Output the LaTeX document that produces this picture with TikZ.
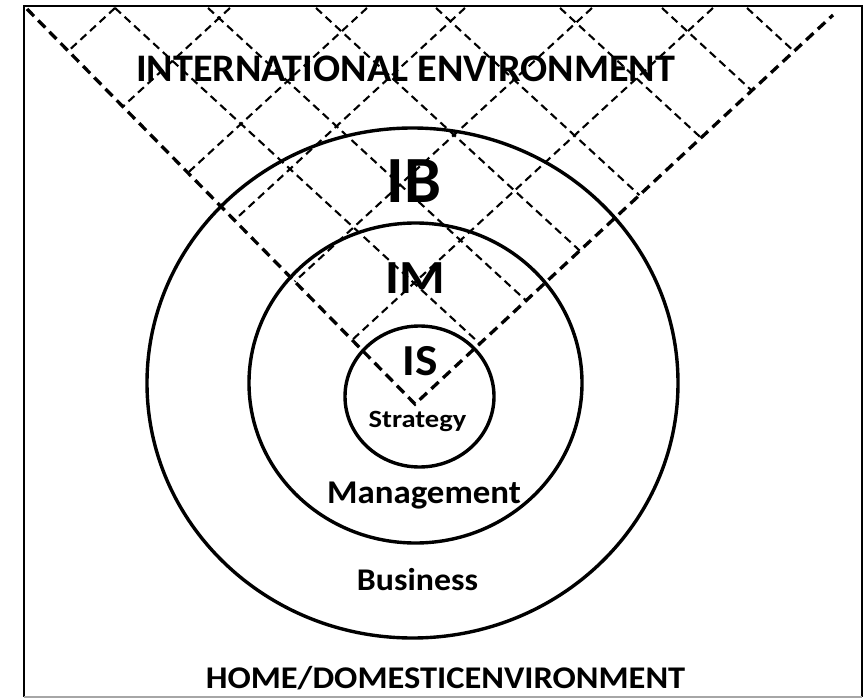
\documentclass[tikz,border=0pt]{standalone}
\usepackage{fontspec}
\setmainfont{Carlito}
\usetikzlibrary{shapes.geometric}
\begin{document}
\begin{tikzpicture}[x=1pt,y=-1pt,
  ring/.style={draw=black, line width=3.4pt, ellipse, inner sep=0pt, outer sep=0pt},
  armline/.style={draw=black, line width=3.3pt, dash pattern=on 10pt off 6pt},
  gridline/.style={draw=black, line width=2.1pt, dash pattern=on 8pt off 5pt},
  lbl/.style={anchor=base, inner sep=0pt, text=black}]
\useasboundingbox (0,0) rectangle (865,698);

% outer frame
\draw[line width=2.4pt] (24,697) -- (24,6) -- (862,6) -- (862,697);
\draw[line width=1.2pt, black!35] (24,697) -- (862,697);

% corners of the V-shaped international zone
\coordinate (L) at (27,9);
\coordinate (A) at (415,404);
\coordinate (R) at (833,15);

% lattice: lines running down to the left, stopping at the left arm
% (left arm: y = 9 + 1.01804 (x-27); lattice slope 0.92)
\foreach \x [count=\i] in {115,230,367,465,592,713} {
  \pgfmathsetmacro{\ex}{(0.92*\x+26.487)/1.93804}
  \pgfmathsetmacro{\ey}{8+0.92*(\x-\ex)}
  \coordinate (s\i) at (\x,8);
  \coordinate (e\i) at (\ex,\ey);
  \draw[gridline] (s\i) -- (e\i);
}
% lattice: lines running down to the right, stopping at the right arm
% (right arm: y = 404 - 0.93062 (x-415))
\foreach \x [count=\i] in {115,208,316,436,560,662,747} {
  \pgfmathsetmacro{\ex}{(782.207+0.92*\x)/1.85062}
  \pgfmathsetmacro{\ey}{8+0.92*(\ex-\x)}
  \coordinate (u\i) at (\x,8);
  \coordinate (f\i) at (\ex,\ey);
  \draw[gridline] (u\i) -- (f\i);
}
% arms of the V
\draw[armline] (L) -- (A) -- (R);

% concentric rings
\node[ring, minimum width=531pt, minimum height=510pt] (business) at (412.5,383) {};
\node[ring, minimum width=333pt, minimum height=320pt] (management) at (415.5,383) {};
\node[ring, minimum width=149pt, minimum height=141pt] (strategy) at (419.5,396.5) {};

% labels
\node[lbl, xscale=1.03, font=\bfseries\fontsize{39}{40}\selectfont] (intl) at (405.5,82) {INTERNATIONAL ENVIRONMENT};
\node[lbl, font=\bfseries\fontsize{66}{66}\selectfont] (ib) at (414,202) {IB};
\node[lbl, xscale=1.1, font=\bfseries\fontsize{47.5}{48}\selectfont] (im) at (415.5,293) {IM};
\node[lbl, xscale=1.07, font=\bfseries\fontsize{44.3}{45}\selectfont] (is) at (420,375) {IS};
\node[lbl, xscale=1.15, font=\bfseries\fontsize{24.8}{25}\selectfont] (strat) at (417.5,427) {Strategy};
\node[lbl, xscale=1.05, font=\bfseries\fontsize{33.2}{34}\selectfont] (mgmt) at (424,503) {Management};
\node[lbl, xscale=1.07, font=\bfseries\fontsize{31.6}{32}\selectfont] (bus) at (417.5,590) {Business};
\node[lbl, xscale=1.09, font=\bfseries\fontsize{31.6}{32}\selectfont] (home) at (445.5,688) {HOME/DOMESTICENVIRONMENT};
\end{tikzpicture}
\end{document}
